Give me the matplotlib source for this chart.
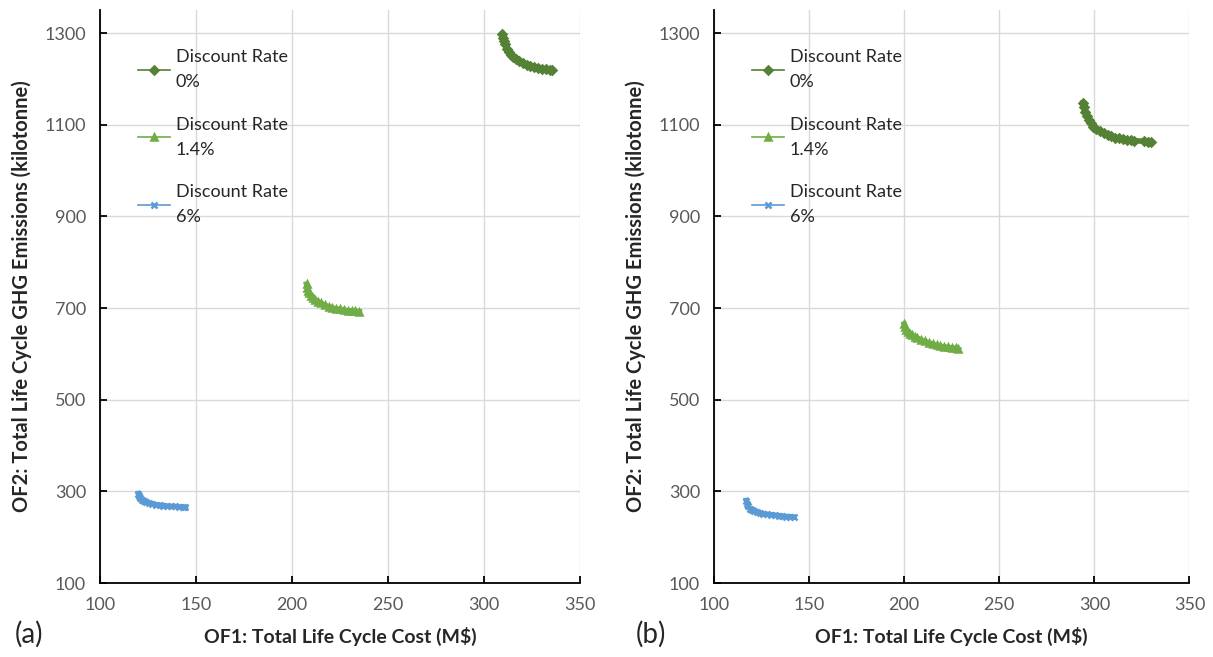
import matplotlib
matplotlib.use('Agg')
import matplotlib.pyplot as plt

plt.rcParams['font.family'] = ['Lato', 'DejaVu Sans']

labels = ['Discount Rate\n0%', 'Discount Rate\n1.4%', 'Discount Rate\n6%']
colors = ['#548235', '#70AD47', '#5B9BD5']
markers = ['D', '^', 'x']

# panel (a)
a_cost_0 = [309.5, 310, 310.5, 311, 312, 313, 314, 315, 316.5, 318, 320, 322, 324, 326, 328, 330, 332, 334, 335.5]
a_ghg_0 = [1298, 1290, 1282, 1275, 1266, 1259, 1253, 1248, 1243, 1239, 1234, 1230, 1227, 1225, 1223, 1222, 1221, 1220, 1219]
a_cost_14 = [207.5, 208, 208.5, 209, 210, 211, 212, 213.5, 215, 217, 219, 221, 223, 225, 227, 229, 231, 233, 235]
a_ghg_14 = [752, 744, 738, 733, 727, 722, 718, 714, 710, 706, 703, 700, 698, 697, 695, 694, 694, 693, 692]
a_cost_6 = [120, 120.5, 121, 122, 123, 124, 125.5, 127, 129, 131, 133, 135, 137, 139, 141, 143, 144.5]
a_ghg_6 = [295, 289, 285, 281, 278, 276, 274, 273, 271, 270, 269, 268, 267, 267, 266, 266, 265]

# panel (b)
b_cost_0 = [294, 294.5, 295, 296, 297, 298, 299.5, 301, 303, 305, 307, 309, 311, 313, 315, 317, 319, 321, 326, 328, 330]
b_ghg_0 = [1148, 1138, 1128, 1118, 1110, 1103, 1096, 1091, 1086, 1082, 1078, 1075, 1072, 1070, 1068, 1067, 1066, 1065, 1064, 1063, 1062]
b_cost_14 = [200, 200.5, 201, 202, 203, 204, 205.5, 207, 209, 211, 213, 215, 217, 219, 221, 223, 225, 227, 228.5]
b_ghg_14 = [665, 658, 653, 648, 644, 641, 637, 634, 630, 627, 624, 621, 619, 617, 615, 614, 613, 612, 610]
b_cost_6 = [117, 117.5, 118, 119, 120, 121, 122.5, 124, 126, 128, 130, 132, 134, 136, 138, 140, 142]
b_ghg_6 = [280, 272, 267, 262, 259, 257, 255, 253, 251, 250, 249, 248, 247, 246, 245, 245, 244]

x_ticks = [100, 150, 200, 250, 300, 350]
y_ticks = [100, 300, 500, 700, 900, 1100, 1300]

fig = plt.figure(figsize=(12.13, 6.57), dpi=100)
ax_a = fig.add_axes([0.0824, 0.1126, 0.396, 0.872])
ax_b = fig.add_axes([0.5886, 0.1126, 0.392, 0.872])

panels = [
    (ax_a, [(a_cost_0, a_ghg_0), (a_cost_14, a_ghg_14), (a_cost_6, a_ghg_6)], '(a)'),
    (ax_b, [(b_cost_0, b_ghg_0), (b_cost_14, b_ghg_14), (b_cost_6, b_ghg_6)], '(b)'),
]

for ax, series, tag in panels:
    for (xs, ys), lab, c, m in zip(series, labels, colors, markers):
        ms = 4.2 if m == 'D' else 5
        ax.plot(xs, ys, color=c, marker=m, markersize=ms, lw=4, mew=1.8, label=lab)
    ax.set_xlim(100, 350)
    ax.set_ylim(100, 1350)
    ax.set_xticks(x_ticks)
    ax.set_yticks(y_ticks)
    ax.grid(True, color='#d9d9d9', lw=1)
    ax.set_axisbelow(True)
    for s in ['top', 'right']:
        ax.spines[s].set_visible(False)
    for s in ['left', 'bottom']:
        ax.spines[s].set_color('black')
        ax.spines[s].set_linewidth(1.3)
    ax.tick_params(direction='in', length=5, width=1.3, labelsize=13, labelcolor='#595959', pad=10)
    ax.set_xlabel('OF1: Total Life Cycle Cost (M$)', fontsize=14, fontweight='bold', color='#262626', labelpad=10)
    ax.set_ylabel('OF2: Total Life Cycle GHG Emissions (kilotonne)', fontsize=14.5, fontweight='bold', color='#262626', labelpad=9)
    leg = ax.legend(loc='upper left', bbox_to_anchor=(0.045, 0.96), frameon=False, fontsize=13,
                    handlelength=1.8, handletextpad=0.3, labelspacing=1.45)
    for h in leg.legend_handles:
        h.set_linewidth(1.2)
        h.set_markersize(4)
    for t in leg.get_texts():
        t.set_linespacing(1.7)
        t.set_color('#262626')

fig.text(0.012, 0.022, '(a)', fontsize=20, color='#262626')
fig.text(0.524, 0.022, '(b)', fontsize=20, color='#262626')

fig.savefig('out.png', dpi=100)
